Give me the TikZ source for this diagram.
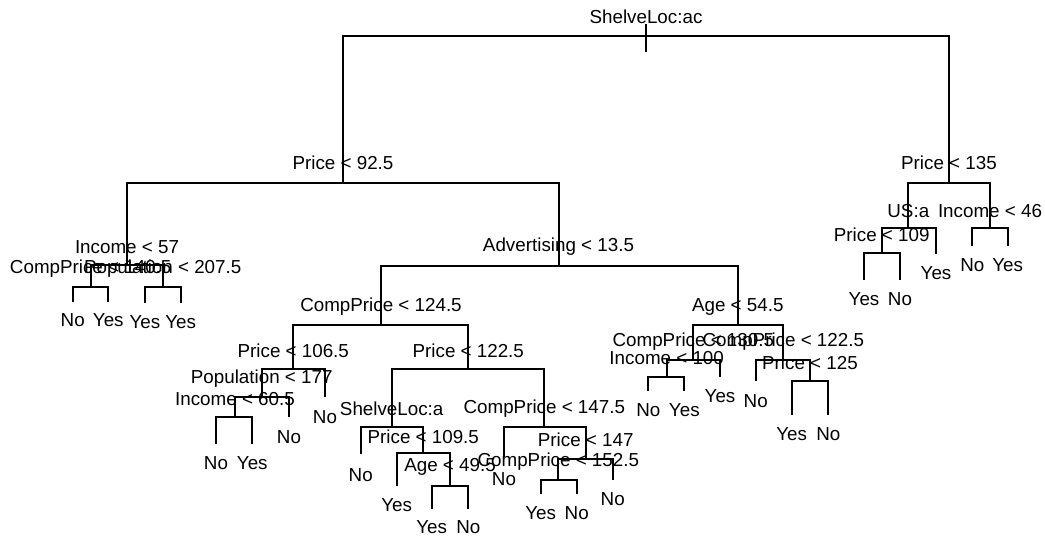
\documentclass[tikz,border=0pt]{standalone}
\usepackage{fontspec}
\setmainfont{Liberation Sans}
\begin{document}
\begin{tikzpicture}[x=1pt,y=-1pt,
  edge/.style={line width=2pt},
  lbl/.style={font=\fontsize{18.8}{22}\selectfont, inner sep=0pt, anchor=base}]
\useasboundingbox (0,0) rectangle (1045,538);
% tree node positions (bar level for splits, bottom for leaves)
\coordinate (r) at (646,36);
\coordinate (rt) at (646,23.5);
\coordinate (rb) at (646,52);
\coordinate (n1) at (343,183);
\coordinate (n2) at (949,183);
\coordinate (n3) at (127,265);
\coordinate (n4) at (558.5,265.5);
\coordinate (n5) at (90.7,287);
\coordinate (n6) at (162.7,287);
\coordinate (l1) at (72.7,302);
\coordinate (l2) at (108.3,302);
\coordinate (l3) at (145,303);
\coordinate (l4) at (180.7,303);
\coordinate (n7) at (381,325);
\coordinate (n8) at (737.8,325);
\coordinate (n9) at (293.3,369.3);
\coordinate (n10) at (468.3,369.3);
\coordinate (n11) at (261.7,397.3);
\coordinate (l5) at (325,397.3);
\coordinate (n12) at (235,417.3);
\coordinate (l6) at (289,417.3);
\coordinate (l7) at (216,444);
\coordinate (l8) at (252.3,444);
\coordinate (n13) at (391.7,427.3);
\coordinate (n14) at (544.3,427.3);
\coordinate (l9) at (360.7,454);
\coordinate (n15) at (423.3,453.3);
\coordinate (l10) at (396.7,486);
\coordinate (n16) at (450,486);
\coordinate (l11) at (431.7,509.3);
\coordinate (l12) at (468.3,509.3);
\coordinate (l13) at (504,457.3);
\coordinate (n17) at (585.7,459);
\coordinate (n18) at (558.3,480);
\coordinate (l14) at (612.7,480);
\coordinate (l15) at (540.7,494);
\coordinate (l16) at (576.7,494);
\coordinate (n19) at (693.3,360);
\coordinate (n20) at (783.3,360);
\coordinate (n21) at (666.7,376.7);
\coordinate (l17) at (720,376.7);
\coordinate (l18) at (648.3,390.7);
\coordinate (l19) at (684.3,390.7);
\coordinate (l20) at (755.7,381);
\coordinate (n22) at (810,380.7);
\coordinate (l21) at (791.7,415);
\coordinate (l22) at (828.3,415);
\coordinate (n23) at (908.3,228.3);
\coordinate (n24) at (990,228.3);
\coordinate (n25) at (881.7,253.3);
\coordinate (l23) at (936,254);
\coordinate (l24) at (864,280);
\coordinate (l25) at (900,280);
\coordinate (l26) at (972.3,246);
\coordinate (l27) at (1007.7,246);
% connectors
\draw[edge] (rt) -- (rb);
\foreach \p/\c in {r/n1,r/n2,n1/n3,n1/n4,n2/n23,n2/n24,n3/n5,n3/n6,
  n5/l1,n5/l2,n6/l3,n6/l4,n4/n7,n4/n8,n7/n9,n7/n10,n9/n11,n9/l5,
  n11/n12,n11/l6,n12/l7,n12/l8,n10/n13,n10/n14,n13/l9,n13/n15,
  n15/l10,n15/n16,n16/l11,n16/l12,n14/l13,n14/n17,n17/n18,n17/l14,
  n18/l15,n18/l16,n8/n19,n8/n20,n19/n21,n19/l17,n21/l18,n21/l19,
  n20/l20,n20/n22,n22/l21,n22/l22,n23/n25,n23/l23,n25/l24,n25/l25,
  n24/l26,n24/l27}
  \draw[edge] (\p) -| (\c);
% split labels
\node[lbl] (tr) at (646,23.5) {ShelveLoc:ac};
\node[lbl] (t1) at (343,169.5) {Price < 92.5};
\node[lbl] (t2) at (949,169.5) {Price < 135};
\node[lbl] (t3) at (127,253.5) {Income < 57};
\node[lbl] (t4) at (558.5,251.5) {Advertising < 13.5};
\node[lbl] (t5) at (90.7,273.5) {CompPrice < 140.5};
\node[lbl] (t6) at (162.7,273.5) {Population < 207.5};
\node[lbl] (t7) at (381,311.5) {CompPrice < 124.5};
\node[lbl] (t8) at (737.8,311.5) {Age < 54.5};
\node[lbl] (t9) at (293.3,357.2) {Price < 106.5};
\node[lbl] (t10) at (468.3,357.2) {Price < 122.5};
\node[lbl] (t11) at (261.7,383.8) {Population < 177};
\node[lbl] (t12) at (235,405.8) {Income < 60.5};
\node[lbl] (t13) at (391.7,415.8) {ShelveLoc:a};
\node[lbl] (t14) at (544.3,413.5) {CompPrice < 147.5};
\node[lbl] (t15) at (423.3,443.2) {Price < 109.5};
\node[lbl] (t16) at (450,471.5) {Age < 49.5};
\node[lbl] (t17) at (585.7,446.5) {Price < 147};
\node[lbl] (t18) at (558.3,466.5) {CompPrice < 152.5};
\node[lbl] (t19) at (693.3,346.5) {CompPrice < 130.5};
\node[lbl] (t20) at (783.3,346.5) {CompPrice < 122.5};
\node[lbl] (t21) at (666.7,364.8) {Income < 100};
\node[lbl] (t22) at (810,369.2) {Price < 125};
\node[lbl] (t23) at (908.3,217.2) {US:a};
\node[lbl] (t24) at (990,217.2) {Income < 46};
\node[lbl] (t25) at (881.7,241.5) {Price < 109};
% leaf labels
\node[lbl] (y1) at (72.7,326.5) {No};
\node[lbl] (y2) at (108.3,326.5) {Yes};
\node[lbl] (y3) at (145,328.2) {Yes};
\node[lbl] (y4) at (180.7,328.2) {Yes};
\node[lbl] (y5) at (325,423.8) {No};
\node[lbl] (y6) at (289,443.8) {No};
\node[lbl] (y7) at (216,469.8) {No};
\node[lbl] (y8) at (252.3,469.8) {Yes};
\node[lbl] (y9) at (360.7,481.5) {No};
\node[lbl] (y10) at (396.7,511.5) {Yes};
\node[lbl] (y11) at (431.7,533.2) {Yes};
\node[lbl] (y12) at (468.3,533.2) {No};
\node[lbl] (y13) at (504,485.8) {No};
\node[lbl] (y14) at (612.7,505.8) {No};
\node[lbl] (y15) at (540.7,519.8) {Yes};
\node[lbl] (y16) at (576.7,519.8) {No};
\node[lbl] (y17) at (720,402.5) {Yes};
\node[lbl] (y18) at (648.3,416.5) {No};
\node[lbl] (y19) at (684.3,416.5) {Yes};
\node[lbl] (y20) at (755.7,407.2) {No};
\node[lbl] (y21) at (791.7,440.5) {Yes};
\node[lbl] (y22) at (828.3,440.5) {No};
\node[lbl] (y23) at (936,279.8) {Yes};
\node[lbl] (y24) at (864,305.8) {Yes};
\node[lbl] (y25) at (900,305.8) {No};
\node[lbl] (y26) at (972.3,271.5) {No};
\node[lbl] (y27) at (1007.7,271.5) {Yes};
\end{tikzpicture}
\end{document}
